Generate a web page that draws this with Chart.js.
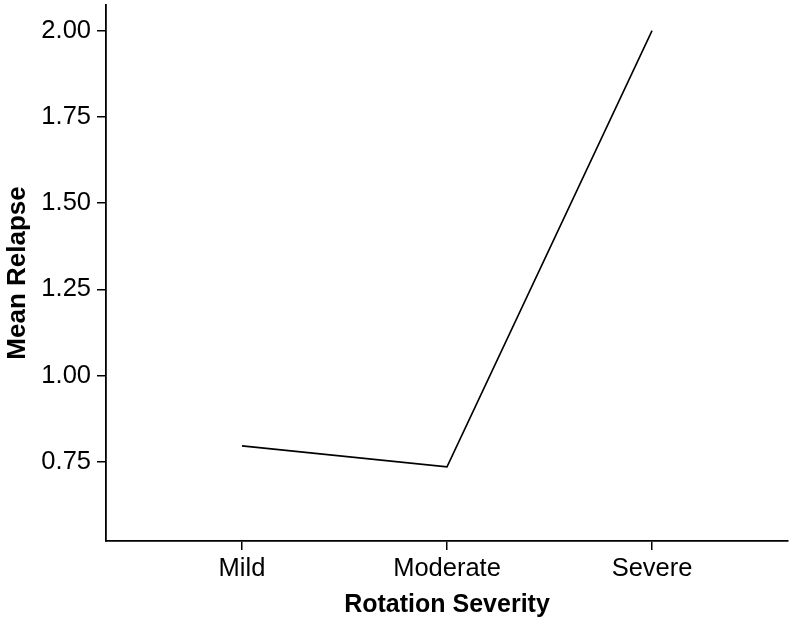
<!DOCTYPE html>
<html>
<head>
<meta charset="utf-8">
<script src="https://cdn.jsdelivr.net/npm/chart.js@4"></script>
<style>
html,body{margin:0;padding:0;background:#fff;}
#wrap{width:793px;height:626px;position:relative;}
</style>
</head>
<body>
<div id="wrap"><canvas id="c" width="793" height="626"></canvas></div>
<script>
const categories = ["Mild", "Moderate", "Severe"];
const meanRelapse = [0.796, 0.735, 2.00];
const yTicks = [0.75, 1.00, 1.25, 1.50, 1.75, 2.00];
const xTitle = "Rotation Severity";
const yTitle = "Mean Relapse";

const points = categories.map((c, i) => ({x: i + 1, y: meanRelapse[i]}));
const FONT = "'Liberation Sans', Arial, sans-serif";

new Chart(document.getElementById('c'), {
  type: 'line',
  data: {
    datasets: [{
      data: points,
      borderColor: '#000',
      borderWidth: 1.6,
      pointRadius: 0,
      tension: 0,
      fill: false
    }]
  },
  options: {
    responsive: false,
    animation: false,
    events: [],
    layout: {padding: {left: 0, right: 5, top: 5, bottom: 0}},
    plugins: {legend: {display: false}, tooltip: {enabled: false}},
    scales: {
      x: {
        type: 'linear',
        min: 0.337,
        max: 3.663,
        afterBuildTicks: (s) => { s.ticks = categories.map((c, i) => ({value: i + 1})); },
        afterFit: (s) => { s.height = 85; s.paddingLeft = 0; s.paddingRight = 0; },
        ticks: {
          callback: (v) => categories[Math.round(v) - 1] || '',
          color: '#000',
          font: {family: FONT, size: 25.5},
          padding: 4,
          maxRotation: 0,
          autoSkip: false
        },
        grid: {drawOnChartArea: false, drawTicks: true, tickLength: 9, color: '#000', lineWidth: 1.5},
        border: {display: true, color: '#000', width: 1.8},
        title: {display: true, text: xTitle, color: '#000', font: {family: FONT, size: 25, weight: 'bold'}, padding: {top: 0, bottom: 6}}
      },
      y: {
        type: 'linear',
        min: 0.52,
        max: 2.0745,
        afterBuildTicks: (s) => { s.ticks = yTicks.map(v => ({value: v})); },
        afterFit: (s) => { s.width = 106; s.paddingTop = 0; s.paddingBottom = 0; },
        ticks: {
          callback: (v) => Number(v).toFixed(2),
          color: '#000',
          font: {family: FONT, size: 25.5},
          padding: 6
        },
        grid: {drawOnChartArea: false, drawTicks: true, tickLength: 9, color: '#000', lineWidth: 1.5},
        border: {display: true, color: '#000', width: 1.8},
        title: {display: true, text: yTitle, color: '#000', font: {family: FONT, size: 26, weight: 'bold'}, padding: {top: 2, bottom: 0}}
      }
    }
  }
});
</script>
</body>
</html>
